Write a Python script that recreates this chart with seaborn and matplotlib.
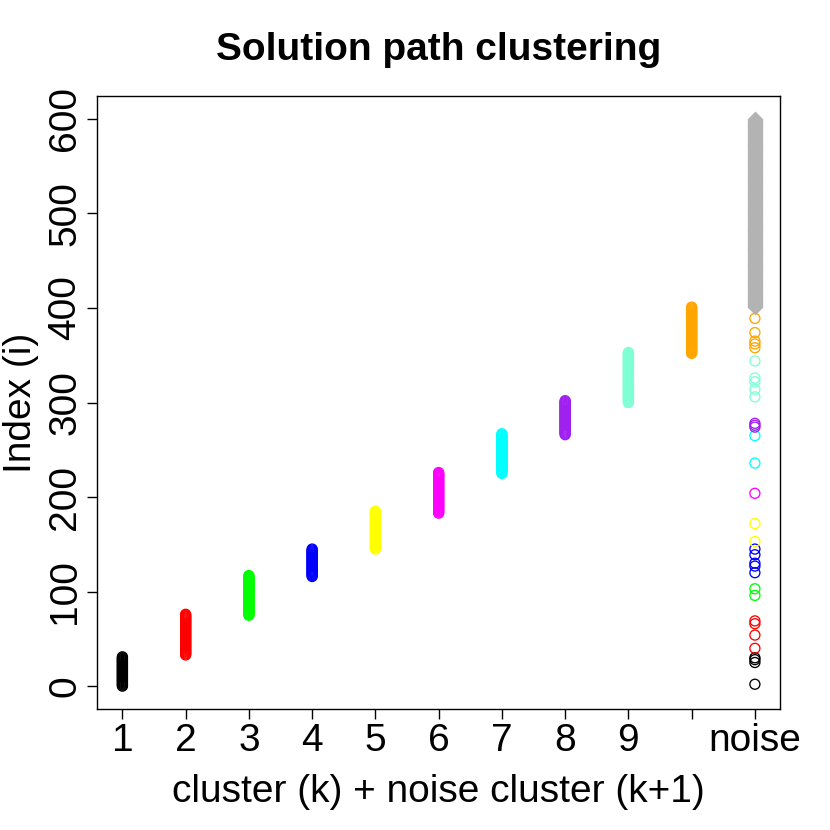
import numpy as np
import pandas as pd
import seaborn as sns
import matplotlib.pyplot as plt


# cluster k = 1..10, index range covered by each cluster
cluster_ids = [1, 2, 3, 4, 5, 6, 7, 8, 9, 10]
cluster_lo = [0, 33, 75, 116, 145, 183, 225, 266, 300, 352]
cluster_hi = [31, 76, 117, 145, 185, 226, 267, 302, 353, 401]
cluster_colors = ['black', 'red', '#00FF00', 'blue', 'yellow', 'magenta',
                  'cyan', '#A020F0', '#7FFFD4', '#FFA500']

# points of each cluster that fell into the noise cluster (k+1)
noise_from_cluster = [
	[2, 25, 28, 30],
	[40, 54, 66, 69],
	[96, 103],
	[120, 127, 130, 139, 145],
	[153, 172],
	[204],
	[236, 265],
	[274, 276, 278],
	[306, 314, 322, 326, 344],
	[358, 362, 365, 374, 389],
]

# true noise observations
noise_lo = 401
noise_hi = 600
noise_color = '#B3B3B3'

x_ticks = [1, 2, 3, 4, 5, 6, 7, 8, 9, 10, 11]
x_labels = ['1', '2', '3', '4', '5', '6', '7', '8', '9', '', 'noise']
y_ticks = [0, 100, 200, 300, 400, 500, 600]


def build_frames():
	rows = []
	for k, lo, hi, col, nz in zip(cluster_ids, cluster_lo, cluster_hi, cluster_colors, noise_from_cluster):
		for i in range(lo, hi + 1):
			rows.append((k, i, col))
		for i in nz:
			rows.append((11, i, col))
	df = pd.DataFrame(rows, columns=['cluster', 'index', 'color'])
	idx = np.arange(noise_lo, noise_hi + 1)
	noise = pd.DataFrame({'cluster': 11, 'index': idx})
	return df, noise


sns.set_style('ticks')
plt.rcParams['font.family'] = ['Liberation Sans', 'DejaVu Sans']
plt.rcParams.update({'text.color': 'black', 'axes.labelcolor': 'black',
                     'xtick.color': 'black', 'ytick.color': 'black'})

df, noise = build_frames()

fig = plt.figure(figsize=(8.3, 8.3), dpi=100)
ax = fig.add_axes([0.117, 0.146, 0.823, 0.738])

sns.scatterplot(x='cluster', y='index', data=noise, marker='D', color=noise_color,
                edgecolor=noise_color, s=65, linewidth=0, ax=ax, zorder=2)
for col, sub in df.groupby('color', sort=False):
	sns.scatterplot(x='cluster', y='index', data=sub, marker='o', facecolor='none',
	                edgecolor=col, s=52, linewidth=0.95, ax=ax, zorder=3)

ax.set_xlim(0.6, 11.4)
ax.set_ylim(-24, 624)
ax.set_xticks(x_ticks)
ax.set_xticklabels(x_labels, fontsize=28)
ax.set_yticks(y_ticks)
ax.set_yticklabels([str(v) for v in y_ticks], fontsize=28, rotation=90, va='center')
ax.tick_params(length=7, width=1, color='black', pad=3)
for s in ax.spines.values():
	s.set_visible(True)
	s.set_color('black')
	s.set_linewidth(1)

ax.set_xlabel('cluster (k) + noise cluster (k+1)', fontsize=28, labelpad=11)
ax.set_ylabel('Index (i)', fontsize=28, labelpad=6)
ax.set_title('Solution path clustering', fontsize=28, fontweight='bold', pad=26)

plt.savefig('out.png', dpi=100)
